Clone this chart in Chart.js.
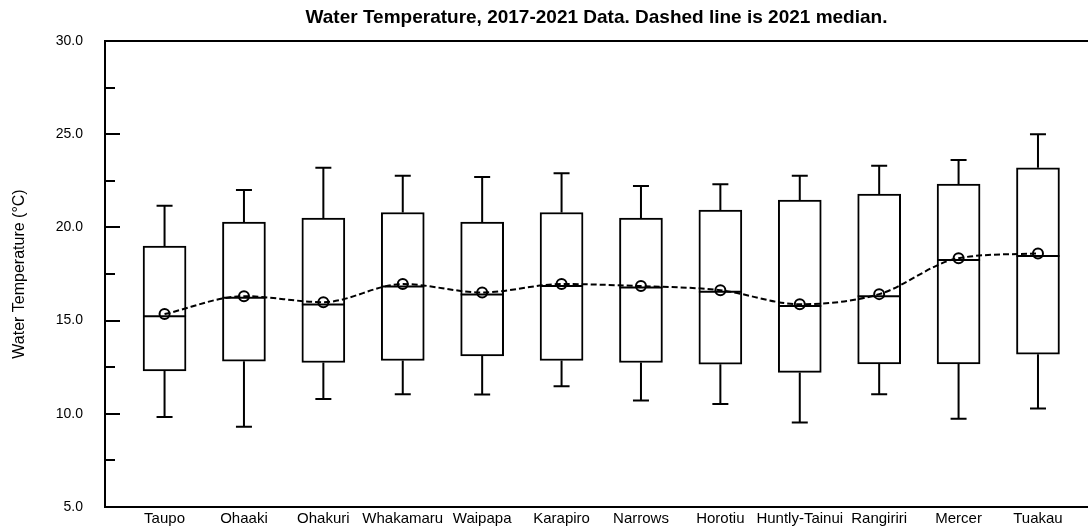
<!DOCTYPE html>
<html>
<head>
<meta charset="utf-8">
<script src="https://cdn.jsdelivr.net/npm/chart.js@4"></script>
<style>
  html, body { margin: 0; padding: 0; background: #fff; overflow: hidden; }
  canvas { display: block; }
</style>
</head>
<body>
<canvas id="tempChart" width="1088" height="528"></canvas>
<script>
    var categories = ['Taupo', 'Ohaaki', 'Ohakuri', 'Whakamaru', 'Waipapa', 'Karapiro', 'Narrows', 'Horotiu', 'Huntly-Tainui', 'Rangiriri', 'Mercer', 'Tuakau'];
    var whiskerLow = [9.83, 9.3, 10.8, 11.05, 11.04, 11.48, 10.71, 10.52, 9.53, 11.05, 9.73, 10.28];
    var q1 = [12.3, 12.82, 12.75, 12.86, 13.1, 12.86, 12.75, 12.66, 12.22, 12.68, 12.68, 13.2];
    var median = [15.24, 16.22, 15.87, 16.83, 16.4, 16.85, 16.78, 16.55, 15.78, 16.31, 18.25, 18.46];
    var q3 = [19.0, 20.28, 20.5, 20.8, 20.28, 20.8, 20.5, 20.93, 21.47, 21.79, 22.32, 23.2];
    var whiskerHigh = [21.16, 22.0, 23.2, 22.77, 22.7, 22.9, 22.22, 22.32, 22.77, 23.31, 23.61, 25.0];
    var median2021 = [15.35, 16.31, 15.99, 16.96, 16.51, 16.96, 16.85, 16.63, 15.88, 16.42, 18.35, 18.6];
    var yTicks = [5, 7.5, 10, 12.5, 15, 17.5, 20, 22.5, 25, 27.5, 30];

    var font = "'Liberation Sans', Arial, Helvetica, sans-serif";

    // whiskers + median lines for the box dataset
    var boxPlugin = {
        id: 'boxExtras',
        afterDatasetDraw: function (chart, args) {
            if (args.index !== 0) return;
            var ctx = chart.ctx;
            var y = chart.scales.y;
            ctx.save();
            ctx.strokeStyle = '#000';
            ctx.lineWidth = 2;
            args.meta.data.forEach(function (bar, i) {
                var x = bar.x, half = bar.width / 2, cap = 8;
                var pts = [
                    [q3[i], whiskerHigh[i]],
                    [q1[i], whiskerLow[i]]
                ];
                pts.forEach(function (p) {
                    ctx.beginPath();
                    ctx.moveTo(x, y.getPixelForValue(p[0]));
                    ctx.lineTo(x, y.getPixelForValue(p[1]));
                    ctx.moveTo(x - cap, y.getPixelForValue(p[1]));
                    ctx.lineTo(x + cap, y.getPixelForValue(p[1]));
                    ctx.stroke();
                });
                ctx.beginPath();
                ctx.moveTo(x - half, y.getPixelForValue(median[i]));
                ctx.lineTo(x + half, y.getPixelForValue(median[i]));
                ctx.stroke();
            });
            ctx.restore();
        }
    };

    // top frame line and inward y ticks
    var framePlugin = {
        id: 'frame',
        afterDraw: function (chart) {
            var ctx = chart.ctx, a = chart.chartArea, y = chart.scales.y;
            ctx.save();
            ctx.strokeStyle = '#000';
            ctx.lineWidth = 2;
            ctx.beginPath();
            ctx.moveTo(a.left, a.top);
            ctx.lineTo(a.right, a.top);
            yTicks.forEach(function (v) {
                var py = Math.round(y.getPixelForValue(v));
                var len = (v % 5 === 0) ? 15 : 10;
                ctx.moveTo(a.left, py);
                ctx.lineTo(a.left + len, py);
            });
            ctx.stroke();
            ctx.restore();
        }
    };

    var ctx = document.getElementById('tempChart').getContext('2d');
    var tempChart = new Chart(ctx, {
        data: {
            datasets: [{
                type: 'bar',
                label: '2017-2021',
                data: categories.map(function (c, i) { return { x: i, y: [q1[i], q3[i]] }; }),
                backgroundColor: '#fff',
                borderColor: '#000',
                borderWidth: 2,
                borderSkipped: false,
                barThickness: 43,
                order: 2
            }, {
                type: 'line',
                label: '2021 median',
                data: categories.map(function (c, i) { return { x: i, y: median2021[i] }; }),
                borderColor: '#000',
                borderWidth: 2,
                borderDash: [6, 3],
                cubicInterpolationMode: 'monotone',
                pointRadius: 5,
                pointBorderWidth: 2,
                pointBackgroundColor: 'rgba(255,255,255,0)',
                pointBorderColor: '#000',
                fill: false,
                order: 1
            }]
        },
        options: {
            responsive: false,
            animation: false,
            layout: { padding: 0, autoPadding: false },
            plugins: {
                legend: { display: false },
                tooltip: { enabled: false },
                title: {
                    display: true,
                    fullSize: false,
                    text: 'Water Temperature, 2017-2021 Data. Dashed line is 2021 median.',
                    color: '#000',
                    font: { family: font, size: 19, weight: 'bold', lineHeight: 1.2 },
                    padding: { top: 6.6, bottom: 11.6 }
                }
            },
            scales: {
                x: {
                    type: 'linear',
                    offset: false,
                    min: -0.75,
                    max: 11.63,
                    grid: { display: false, drawTicks: false, offset: false },
                    border: { display: true, color: '#000', width: 2 },
                    afterBuildTicks: function (s) {
                        s.ticks = categories.map(function (c, i) { return { value: i }; });
                    },
                    afterFit: function (s) {
                        s.height = 21;
                        s.paddingLeft = 0;
                        s.paddingRight = 0;
                    },
                    ticks: {
                        autoSkip: false,
                        maxRotation: 0,
                        padding: 3,
                        color: '#000',
                        font: { family: font, size: 15 },
                        callback: function (v) { return categories[v]; }
                    }
                },
                y: {
                    min: 5,
                    max: 30,
                    grid: { display: false, drawTicks: false },
                    border: { display: true, color: '#000', width: 2 },
                    afterBuildTicks: function (s) {
                        s.ticks = yTicks.filter(function (v) { return v % 5 === 0; }).map(function (v) { return { value: v }; });
                    },
                    afterFit: function (s) {
                        s.width = 105;
                        s.paddingTop = 0;
                        s.paddingBottom = 0;
                    },
                    ticks: {
                        padding: 22,
                        color: '#000',
                        font: { family: font, size: 14 },
                        callback: function (v) { return v.toFixed(1); }
                    },
                    title: {
                        display: true,
                        text: 'Water Temperature (°C)',
                        color: '#000',
                        font: { family: font, size: 16 },
                        padding: { top: 10, bottom: 0 }
                    }
                }
            }
        },
        plugins: [boxPlugin, framePlugin]
    });
</script>
</body>
</html>
